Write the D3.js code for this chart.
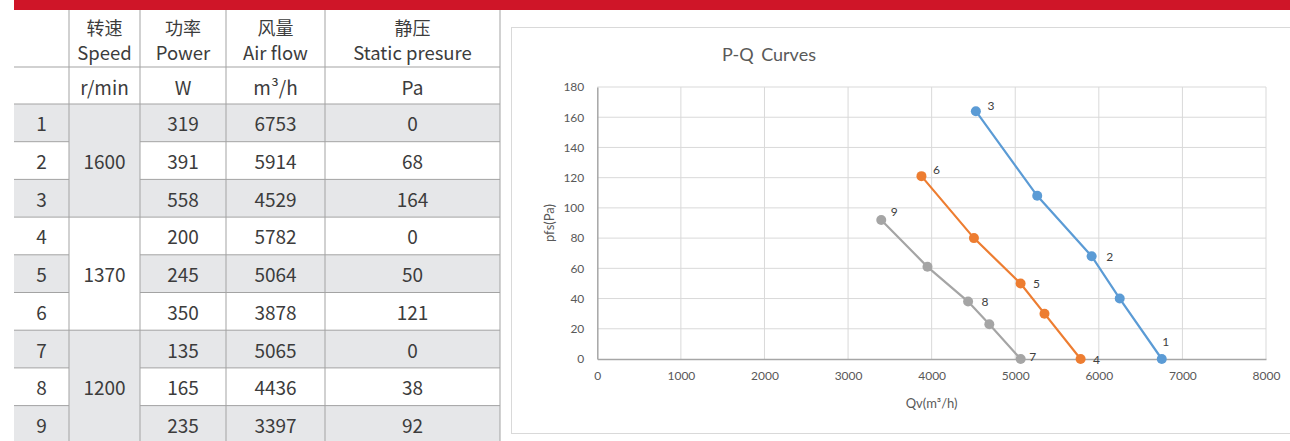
<!DOCTYPE html>
<html><head><meta charset="utf-8">
<script src="https://cdn.jsdelivr.net/npm/d3@7"></script>
<style>
html,body{margin:0;padding:0;background:#fff;}
svg{display:block;}
</style></head>
<body><svg id="c" width="1290" height="441"></svg>
<script>
// ---------- data ----------
const headerCN = ["转速", "功率", "风量", "静压"];
const headerEN = ["Speed", "Power", "Air flow", "Static presure"];
const units = ["r/min", "W", "m³/h", "Pa"];
const pointIds = [1, 2, 3, 4, 5, 6, 7, 8, 9];
const speedGroups = [1600, 1370, 1200];
const power = [319, 391, 558, 200, 245, 350, 135, 165, 235];
const airflow = [6753, 5914, 4529, 5782, 5064, 3878, 5065, 4436, 3397];
const pressure = [0, 68, 164, 0, 50, 121, 0, 38, 92];

const chartTitle = "P-Q Curves";
const xTicks = [0, 1000, 2000, 3000, 4000, 5000, 6000, 7000, 8000];
const yTicks = [0, 20, 40, 60, 80, 100, 120, 140, 160, 180];
const xTitle = "Qv(m³/h)";
const yTitle = "pfs(Pa)";

// curves (labelled ones are the table points)
const blueQ = [4529, 5263, 5914, 6250, 6753];
const blueP = [164, 108, 68, 40, 0];
const blueLab = ["3", null, "2", null, "1"];
const orangeQ = [3878, 4506, 5064, 5350, 5782];
const orangeP = [121, 80, 50, 30, 0];
const orangeLab = ["6", null, "5", null, "4"];
const grayQ = [3397, 3950, 4436, 4690, 5065];
const grayP = [92, 61, 38, 23, 0];
const grayLab = ["9", null, "8", null, "7"];

// ---------- styles ----------
const svg = d3.select("#c");
const tableFont = "'Noto Sans CJK SC', 'Noto Sans', sans-serif";
const chartFont = "Lato, 'Open Sans', sans-serif";
const txtCol = "#3c3c3c";
const grayFill = "#e6e7e9";
const lineCol = "#a3a3a3";

// red top bar
svg.append("rect").attr("x", 14).attr("y", 0).attr("width", 1276).attr("height", 10).attr("fill", "#cf1528");

// ---------- table ----------
const colEdges = [14, 69, 140, 226, 325, 500];
const headerTop = 10, unitTop = 67, rowTop = 104, rowH = 37.7;
const colCenter = i => (colEdges[i] + colEdges[i + 1]) / 2;
const tbl = svg.append("g").attr("font-family", tableFont).attr("fill", txtCol);

// row backgrounds
pointIds.forEach((id, i) => {
  const y = rowTop + i * rowH;
  if (i % 2 === 0) {
    tbl.append("rect").attr("x", colEdges[0]).attr("y", y).attr("width", colEdges[1] - colEdges[0]).attr("height", rowH).attr("fill", grayFill);
    tbl.append("rect").attr("x", colEdges[2]).attr("y", y).attr("width", colEdges[5] - colEdges[2]).attr("height", rowH).attr("fill", grayFill);
  }
});
// speed group backgrounds
speedGroups.forEach((s, g) => {
  if (g % 2 === 0) {
    tbl.append("rect").attr("x", colEdges[1]).attr("y", rowTop + g * 3 * rowH).attr("width", colEdges[2] - colEdges[1]).attr("height", 3 * rowH).attr("fill", grayFill);
  }
});

// horizontal lines
const hLines = [unitTop, rowTop];
pointIds.forEach((id, i) => hLines.push(rowTop + (i + 1) * rowH));
hLines.forEach((y, k) => {
  const idx = k - 2;
  const inGroup = k >= 2 && ((idx + 1) % 3 !== 0);
  if (inGroup) {
    tbl.append("line").attr("x1", colEdges[0]).attr("x2", colEdges[1]).attr("y1", y).attr("y2", y).attr("stroke", lineCol);
    tbl.append("line").attr("x1", colEdges[2]).attr("x2", colEdges[5]).attr("y1", y).attr("y2", y).attr("stroke", lineCol);
  } else {
    tbl.append("line").attr("x1", colEdges[0]).attr("x2", colEdges[5]).attr("y1", y).attr("y2", y).attr("stroke", lineCol);
  }
});
// vertical lines
colEdges.slice(1).forEach(x => {
  tbl.append("line").attr("x1", x).attr("x2", x).attr("y1", headerTop).attr("y2", 441).attr("stroke", lineCol);
});

// header texts
headerCN.forEach((t, i) => {
  tbl.append("text").attr("x", colCenter(i + 1)).attr("y", 27).attr("text-anchor", "middle").attr("dominant-baseline", "central").attr("font-size", 18).text(t);
  tbl.append("text").attr("x", colCenter(i + 1)).attr("y", 52).attr("text-anchor", "middle").attr("dominant-baseline", "central").attr("font-size", 18.5).text(headerEN[i]);
  tbl.append("text").attr("x", colCenter(i + 1)).attr("y", 86).attr("text-anchor", "middle").attr("dominant-baseline", "central").attr("font-size", 19).text(units[i]);
});

// rows
pointIds.forEach((id, i) => {
  const cy = rowTop + i * rowH + rowH / 2;
  [id, power[i], airflow[i], pressure[i]].forEach((v, k) => {
    const col = k === 0 ? 0 : k + 1;
    tbl.append("text").attr("x", colCenter(col)).attr("y", cy).attr("text-anchor", "middle").attr("dominant-baseline", "central").attr("font-size", 19).text(v);
  });
});
speedGroups.forEach((s, g) => {
  tbl.append("text").attr("x", colCenter(1)).attr("y", rowTop + g * 3 * rowH + 1.5 * rowH).attr("text-anchor", "middle").attr("dominant-baseline", "central").attr("font-size", 19).text(s);
});

// ---------- chart ----------
svg.append("rect").attr("x", 511.5).attr("y", 27.5).attr("width", 800).attr("height", 406).attr("fill", "#fff").attr("stroke", "#d9d9d9");

const ch = svg.append("g").attr("font-family", chartFont);
ch.append("text").attr("x", 769).attr("y", 54).attr("text-anchor", "middle").attr("dominant-baseline", "central")
  .attr("font-size", 18).attr("word-spacing", 3).attr("fill", "#595959").text(chartTitle);

const x = d3.scaleLinear().domain([0, 8000]).range([597.3, 1266]);
const y = d3.scaleLinear().domain([0, 180]).range([359, 87]);

// gridlines
ch.append("g").selectAll("line").data(xTicks.slice(1)).join("line")
  .attr("x1", d => x(d)).attr("x2", d => x(d)).attr("y1", y(180)).attr("y2", y(0))
  .attr("stroke", "#d9d9d9").attr("stroke-width", 1);
ch.append("g").selectAll("line").data(yTicks.slice(1)).join("line")
  .attr("x1", x(0)).attr("x2", x(8000)).attr("y1", d => y(d)).attr("y2", d => y(d))
  .attr("stroke", "#d9d9d9").attr("stroke-width", 1);

// axes
const xAxis = d3.axisBottom(x).tickValues(xTicks).tickFormat(d3.format("d")).tickSize(0).tickPadding(12);
const yAxis = d3.axisLeft(y).tickValues(yTicks).tickFormat(d3.format("d")).tickSize(0).tickPadding(13);
const gx = ch.append("g").attr("transform", `translate(0,${y(0)})`).call(xAxis);
const gy = ch.append("g").attr("transform", `translate(${x(0)},0)`).call(yAxis);
[gx, gy].forEach(g => {
  g.select(".domain").attr("stroke", "#a6a6a6").attr("stroke-width", 1.5);
  g.selectAll("text").attr("font-family", chartFont).attr("font-size", 12).attr("fill", "#595959");
});

ch.append("text").attr("x", (x(0) + x(8000)) / 2).attr("y", 403).attr("text-anchor", "middle").attr("dominant-baseline", "central")
  .attr("font-size", 13).attr("fill", "#595959").text(xTitle);
ch.append("text").attr("transform", `translate(549,${(y(0) + y(180)) / 2}) rotate(-90)`).attr("text-anchor", "middle").attr("dominant-baseline", "central")
  .attr("font-size", 13).attr("fill", "#595959").text(yTitle);

// series
const series = [
  { q: blueQ, p: blueP, lab: blueLab, color: "#5b9bd5" },
  { q: orangeQ, p: orangeP, lab: orangeLab, color: "#ed7d31" },
  { q: grayQ, p: grayP, lab: grayLab, color: "#a5a5a5" }
];
const labOff = { "1": [4, -18], "2": [18, 0], "3": [15, -6], "4": [16, 0], "5": [16, 0], "6": [15, -7], "7": [12, -3], "8": [17, 0], "9": [13, -8] };

const line = d3.line().x(d => x(d[0])).y(d => y(d[1]));
series.forEach(s => {
  const pts = s.q.map((q, i) => [q, s.p[i], s.lab[i]]);
  ch.append("path").datum(pts).attr("d", line).attr("fill", "none").attr("stroke", s.color).attr("stroke-width", 2.2);
  ch.append("g").selectAll("circle").data(pts).join("circle")
    .attr("cx", d => x(d[0])).attr("cy", d => y(d[1])).attr("r", 5).attr("fill", s.color);
  ch.append("g").selectAll("text").data(pts.filter(d => d[2])).join("text")
    .attr("x", d => x(d[0]) + labOff[d[2]][0]).attr("y", d => y(d[1]) + labOff[d[2]][1])
    .attr("text-anchor", "middle").attr("dominant-baseline", "central")
    .attr("font-size", 12).attr("fill", "#404040").text(d => d[2]);
});
</script>
</body></html>
